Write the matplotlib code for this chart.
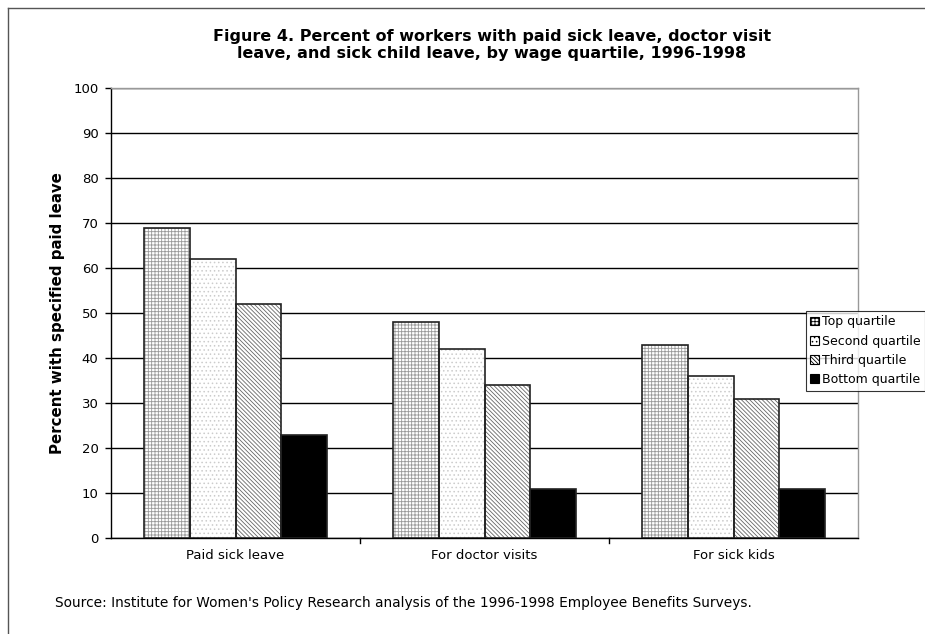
import matplotlib
matplotlib.use("Agg")
import matplotlib.pyplot as plt
import numpy as np
from matplotlib.patches import Patch

categories = ["Paid sick leave", "For doctor visits", "For sick kids"]
series_names = ["Top quartile", "Second quartile", "Third quartile", "Bottom quartile"]
top_q = [69, 48, 43]
second_q = [62, 42, 36]
third_q = [52, 34, 31]
bottom_q = [23, 11, 11]
values = [top_q, second_q, third_q, bottom_q]
yticks = [0, 10, 20, 30, 40, 50, 60, 70, 80, 90, 100]

title = ("Figure 4. Percent of workers with paid sick leave, doctor visit\n"
         "leave, and sick child leave, by wage quartile, 1996-1998")
ylabel = "Percent with specified paid leave"
source = "Source: Institute for Women's Policy Research analysis of the 1996-1998 Employee Benefits Surveys."

plt.rcParams['font.family'] = ['DejaVu Sans']
plt.rcParams['hatch.linewidth'] = 0.6

W, H = 925, 634
fig = plt.figure(figsize=(W/100, H/100), dpi=100)
ax = fig.add_axes([111/W, 1-538/H, (858-111)/W, (538-88)/H])

styles = [
    dict(face="white", hatch="+++++", hcolor="#999999"),
    dict(face="white", hatch="....", hcolor="#cccccc"),
    dict(face="white", hatch="\\\\\\\\\\\\\\\\", hcolor="#666666"),
    dict(face="black", hatch="", hcolor="black"),
]

x = np.arange(len(categories))
bw = 0.183
offsets = (np.arange(4) - 1.5) * bw
for i, (vals, st) in enumerate(zip(values, styles)):
    ax.bar(x + offsets[i], vals, bw, color=st["face"], hatch=st["hatch"],
           edgecolor=st["hcolor"], linewidth=0, zorder=3)
    ax.bar(x + offsets[i], vals, bw, facecolor="none", edgecolor="#222222",
           linewidth=1.2, zorder=4)

ax.set_xlim(-0.5, 2.5)
ax.set_ylim(0, 100)
ax.set_yticks(yticks)
ax.set_yticklabels([str(t) for t in yticks], fontsize=9.5)
ax.yaxis.grid(True, color="black", linewidth=1)
ax.set_axisbelow(True)
ax.set_xticks(x)
ax.set_xticklabels(categories, fontsize=9.5)
ax.tick_params(axis='x', length=0, pad=8)
ax.tick_params(axis='y', length=4, width=1, direction='out', pad=5)
for b in [0.5, 1.5]:
    ax.plot([b, b], [0, -1.2], color="black", lw=1, clip_on=False)
ax.spines['left'].set_color('black')
ax.spines['bottom'].set_color('black')
ax.spines['top'].set_color('#999999')
ax.spines['right'].set_color('#999999')
for s in ax.spines.values():
    s.set_linewidth(1)

ax.set_ylabel(ylabel, fontsize=10.8, fontweight='bold', labelpad=6)
fig.text(492/W, 1 - 45/H, title, ha='center', va='center',
         fontsize=11.5, fontweight='bold', linespacing=1.1)
fig.text(55/W, 1 - 603/H, source, ha='left', va='center', fontsize=9.9)

leg_handles = [Patch(facecolor=st["face"], hatch=st["hatch"], edgecolor="black", linewidth=0.8)
               for st in styles]
leg = fig.legend(leg_handles, series_names, loc='upper left',
                 bbox_to_anchor=(806/W, 1 - 311/H), fontsize=9,
                 frameon=True, fancybox=False, edgecolor='black',
                 handlelength=0.7, handleheight=0.7, handletextpad=0.25,
                 borderpad=0.35, labelspacing=0.5, borderaxespad=0)
leg.get_frame().set_linewidth(0.8)

fig.add_artist(plt.Line2D([8/W, 8/W], [0, 1 - 8/H], color='#555555', lw=1))
fig.add_artist(plt.Line2D([8/W, 1], [1 - 8/H, 1 - 8/H], color='#555555', lw=1))

fig.savefig("out.png", dpi=100)
